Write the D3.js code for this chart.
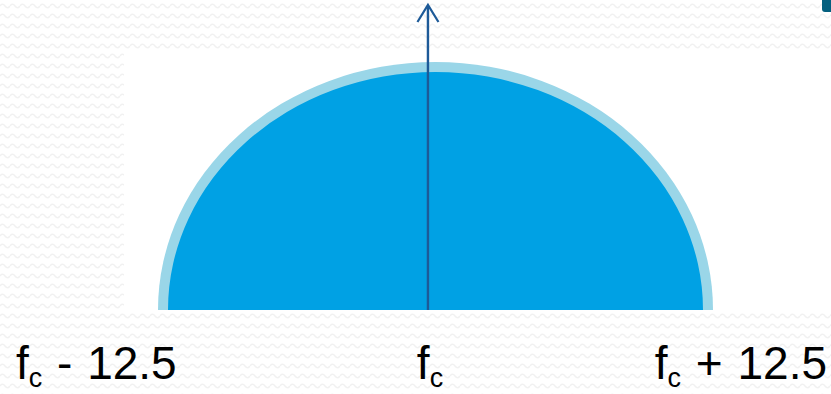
<!DOCTYPE html>
<html>
<head>
<meta charset="utf-8">
<script src="https://cdn.jsdelivr.net/npm/d3@7"></script>
<style>
body { margin: 0; background: #fff; }
svg { display: block; }
</style>
</head>
<body>
<div id="chart"></div>
<script>
// channel mask, frequency offset from fc (MHz) and relative level
var maskFreq = [-12.5, 12.5];
var maskLevel = [0, 1];
var innerFreq = [-12.05, 12.05];
var innerLevel = [0, 0.96];
// carrier arrow
var carrierFreq = [-0.34];
var carrierLevel = [1.23];
// tick labels under the plot
var tickValues = [-12.5, 0, 12.5];
var tickMain = ["f", "f", "f"];
var tickSub = ["c", "c", "c"];
var tickRest = [" - 12.5", "", " + 12.5"];

var W = 831, H = 394;

var svg = d3.select("#chart").append("svg")
	.attr("width", W)
	.attr("height", H);

//faint wavy background pattern
var defs = svg.append("defs");
var pat = defs.append("pattern")
	.attr("id", "waves")
	.attr("patternUnits", "userSpaceOnUse")
	.attr("width", 10)
	.attr("height", 10);
pat.append("path")
	.attr("d", "M0 6 Q2.5 2.5 5 6 T10 6")
	.attr("fill", "none")
	.attr("stroke", "#f1f1f1")
	.attr("stroke-width", 1.5);

svg.append("rect")
	.attr("width", W).attr("height", H)
	.attr("fill", "url(#waves)");

//plot area
var plot = {left: 124, right: 831, top: 50, bottom: 310};
svg.append("rect")
	.attr("x", plot.left).attr("y", plot.top)
	.attr("width", plot.right - plot.left)
	.attr("height", plot.bottom - plot.top)
	.attr("fill", "#fff");

var x = d3.scaleLinear().domain([-12.5, 12.5]).range([158, 713]);
var y = d3.scaleLinear().domain([0, 1]).range([plot.bottom, 62]);

function halfEllipse(f, lv){
	var x0 = x(f[0]), x1 = x(f[1]);
	var rx = (x1 - x0) / 2;
	var ry = y(lv[0]) - y(lv[1]);
	return "M" + x0 + "," + y(lv[0]) +
		" A" + rx + "," + ry + " 0 0 1 " + x1 + "," + y(lv[0]) + " Z";
}

svg.append("path")
	.attr("d", halfEllipse(maskFreq, maskLevel))
	.attr("fill", "#9ad6e8");
svg.append("path")
	.attr("d", halfEllipse(innerFreq, innerLevel))
	.attr("fill", "#00a1e4");

//carrier arrow
var arr = svg.selectAll(".carrier")
	.data(carrierFreq)
	.enter().append("g")
	.attr("class", "carrier")
	.attr("stroke", "#1d5a98")
	.attr("fill", "none");
arr.append("line")
	.attr("x1", function(d){ return x(d); })
	.attr("x2", function(d){ return x(d); })
	.attr("y1", y(0))
	.attr("y2", function(d, i){ return y(carrierLevel[i]) + 1; })
	.attr("stroke-width", 2.4);
arr.append("path")
	.attr("d", function(d, i){
		var cx = x(d), cy = y(carrierLevel[i]);
		return "M" + (cx - 10.5) + "," + (cy + 17) + " L" + cx + "," + cy + " L" + (cx + 10.5) + "," + (cy + 17);
	})
	.attr("stroke-width", 2.2)
	.attr("stroke-linejoin", "miter");

//labels: piecewise so the outer ones sit on the page edges
var lx = d3.scaleLinear().domain([-12.5, 0, 12.5]).range([16, 430, 827]);
var lbl = svg.selectAll(".tick")
	.data(tickValues)
	.enter().append("text")
	.attr("class", "tick")
	.attr("x", function(d){ return lx(d); })
	.attr("y", 379)
	.attr("text-anchor", function(d){ return d < 0 ? "start" : (d > 0 ? "end" : "middle"); })
	.attr("font-family", "'Liberation Sans', Arial, sans-serif")
	.attr("font-size", 46)
	.attr("fill", "#000");
lbl.append("tspan").text(function(d, i){ return tickMain[i]; });
lbl.append("tspan")
	.attr("font-size", 27)
	.attr("dy", 8)
	.text(function(d, i){ return tickSub[i]; });
lbl.append("tspan")
	.attr("dy", -8)
	.attr("word-spacing", 2)
	.text(function(d, i){ return tickRest[i]; });

//slide corner mark
svg.append("path")
	.attr("d", "M822 0 H831 V12 H825 Q822 12 822 9 Z")
	.attr("fill", "#04607f");
</script>
</body>
</html>
